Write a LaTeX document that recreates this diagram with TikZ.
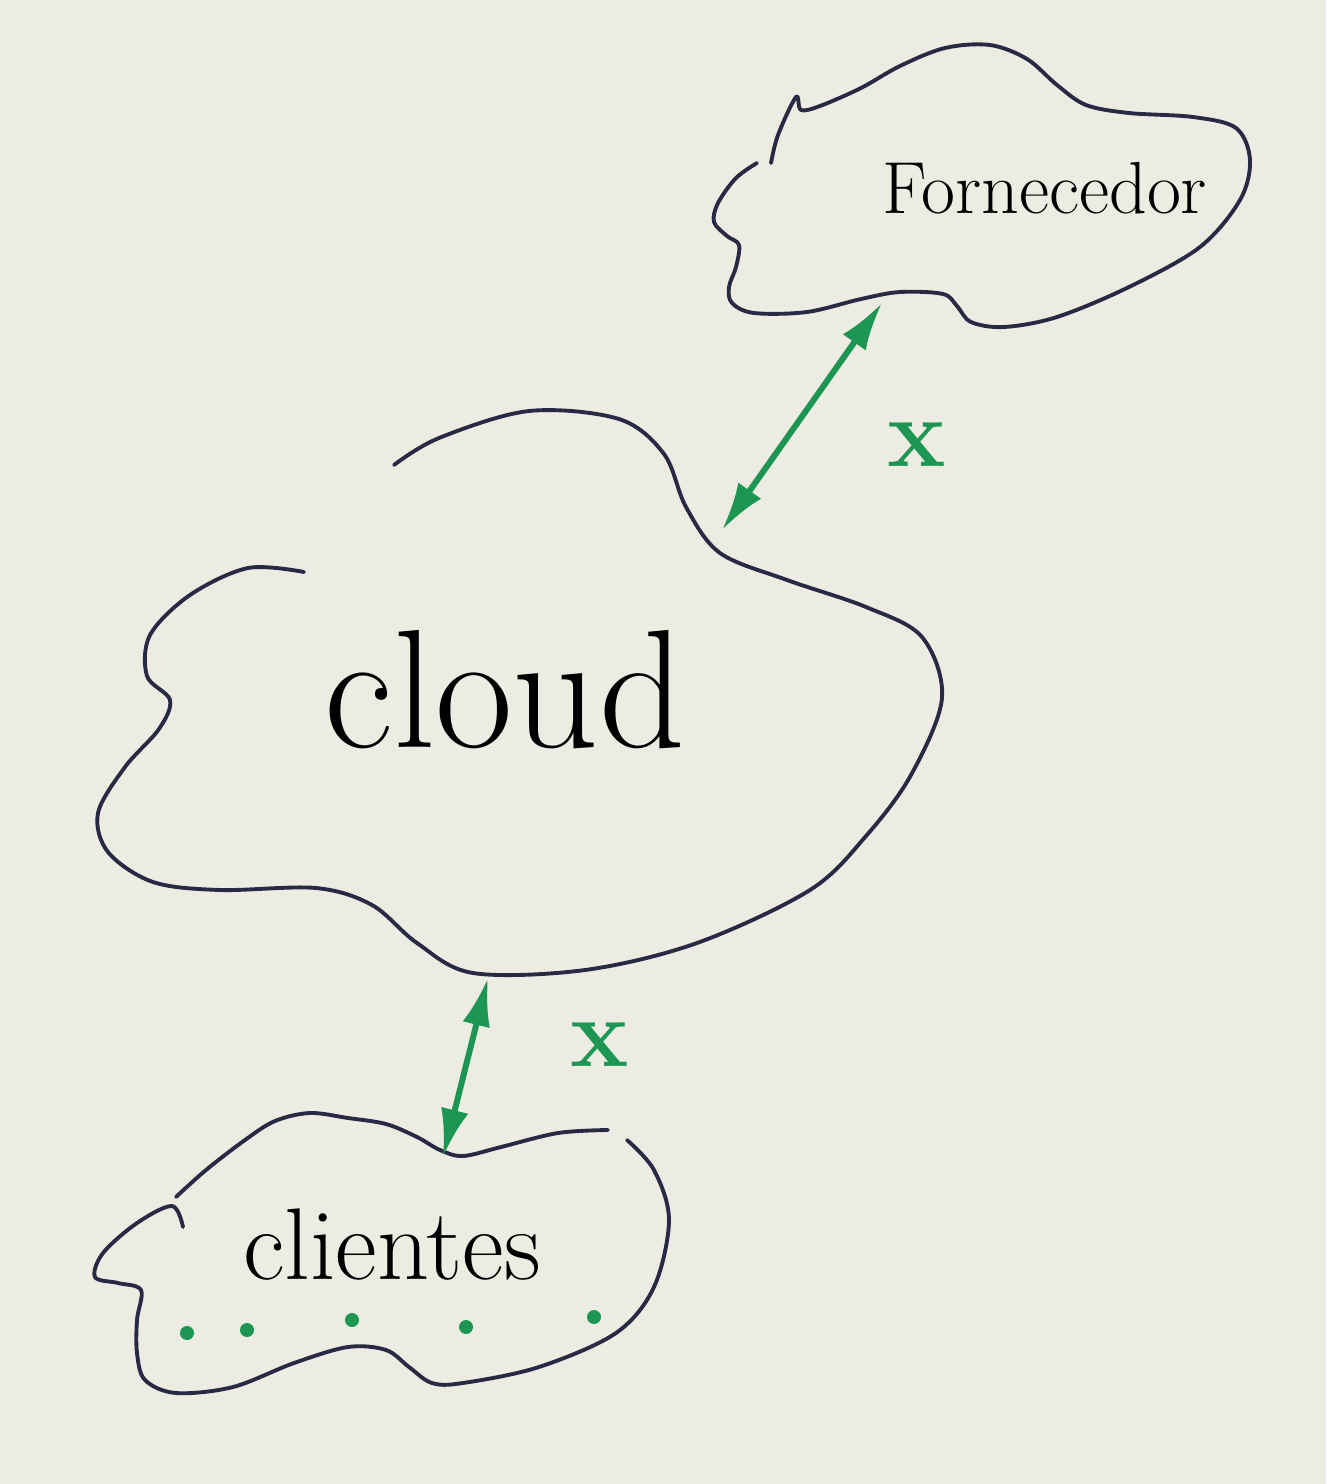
\documentclass[tikz,border=0pt]{standalone}
\usepackage{tikz}
\usetikzlibrary{arrows.meta}
\definecolor{board}{RGB}{236,236,227}
\definecolor{marker}{RGB}{40,42,68}
\definecolor{greenpen}{RGB}{28,150,82}

\begin{document}
\begin{tikzpicture}[x=0.01cm,y=-0.01cm,
    outline/.style={draw=marker,line width=1.1pt,line cap=round,line join=round},
    link/.style={greenpen,line width=1.7pt,{Latex[length=4.8mm,width=2.8mm]}-{Latex[length=4.8mm,width=2.8mm]}},
    cross/.style={text=greenpen,font=\bfseries\fontsize{28}{30}\selectfont},
    client/.style={circle,fill=greenpen,inner sep=0pt,minimum size=1.4mm}]
  \fill[board] (0,0) rectangle (1326,1484);
  \useasboundingbox (0,0) rectangle (1326,1484);
  % fornecedor cloud
  \draw[outline] plot[smooth,tension=0.55] coordinates {(771,163) (778,135) (796,97) (801,110)
    (820,106) (861,88) (900,66) (945,48) (990,45) (1027,59) (1057,85) (1086,105) (1129,113)
    (1193,117) (1236,128) (1250,160) (1240,200) (1200,247) (1129,287) (1057,317) (1004,327)
    (971,322) (957,306) (943,294) (900,292) (861,299) (807,312) (754,313) (732,303) (729,287)
    (736,267) (739,245) (727,236) (714,222) (718,203) (736,178) (757,163)};
  % main cloud
  \draw[outline] plot[smooth,tension=0.55] coordinates {(304,572) (248,568) (190,595) (150,635)
    (147,676) (170,700) (159,729) (125,767) (98,813) (108,852) (153,882) (220,890) (316,888)
    (372,905) (417,943) (473,973) (585,970) (697,943) (810,890) (866,836) (911,775) (942,698)
    (922,637) (866,607) (787,580) (720,553) (686,507) (664,454) (619,419) (529,411) (439,438)
    (394,465)};
  % clientes cloud
  \draw[outline] plot[smooth,tension=0.55] coordinates {(183,1227) (172,1206) (137,1223)
    (103,1253) (95,1277) (118,1283) (141,1290) (137,1320) (137,1353) (145,1380) (176,1393)
    (233,1387) (294,1363) (348,1347) (386,1350) (409,1367) (432,1383) (463,1383) (539,1367)
    (616,1333) (654,1287) (669,1220) (654,1170) (627,1140)};
  \draw[outline] plot[smooth,tension=0.55] coordinates {(176,1197) (206,1170) (245,1140)
    (275,1121) (310,1113) (348,1118) (386,1124) (417,1137) (440,1150) (463,1156) (501,1147)
    (558,1133) (608,1130)};

  \node (forn) at (1045,188) {\fontsize{21}{24}\selectfont Fornecedor};
  \node (cloud) at (505,690) {\fontsize{48}{52}\selectfont cloud};
  \node (clientes) at (392,1245) {\fontsize{29}{32}\selectfont clientes};
  \foreach \i/\x/\y in {1/187/1333, 2/247/1330, 3/352/1320, 4/466/1327, 5/594/1317}
    \node[client] (c\i) at (\x,\y) {};

  \coordinate (forn-s) at (882,303);
  \coordinate (cloud-ne) at (722,530);
  \coordinate (cloud-s) at (488,978);
  \coordinate (cli-n) at (443,1157);
  \draw[link] (cloud-ne) -- (forn-s);
  \draw[link] (cloud-s) -- (cli-n);
  \node[cross] (x1) at (917,445) {x};
  \node[cross] (x2) at (600,1045) {x};
\end{tikzpicture}
\end{document}
